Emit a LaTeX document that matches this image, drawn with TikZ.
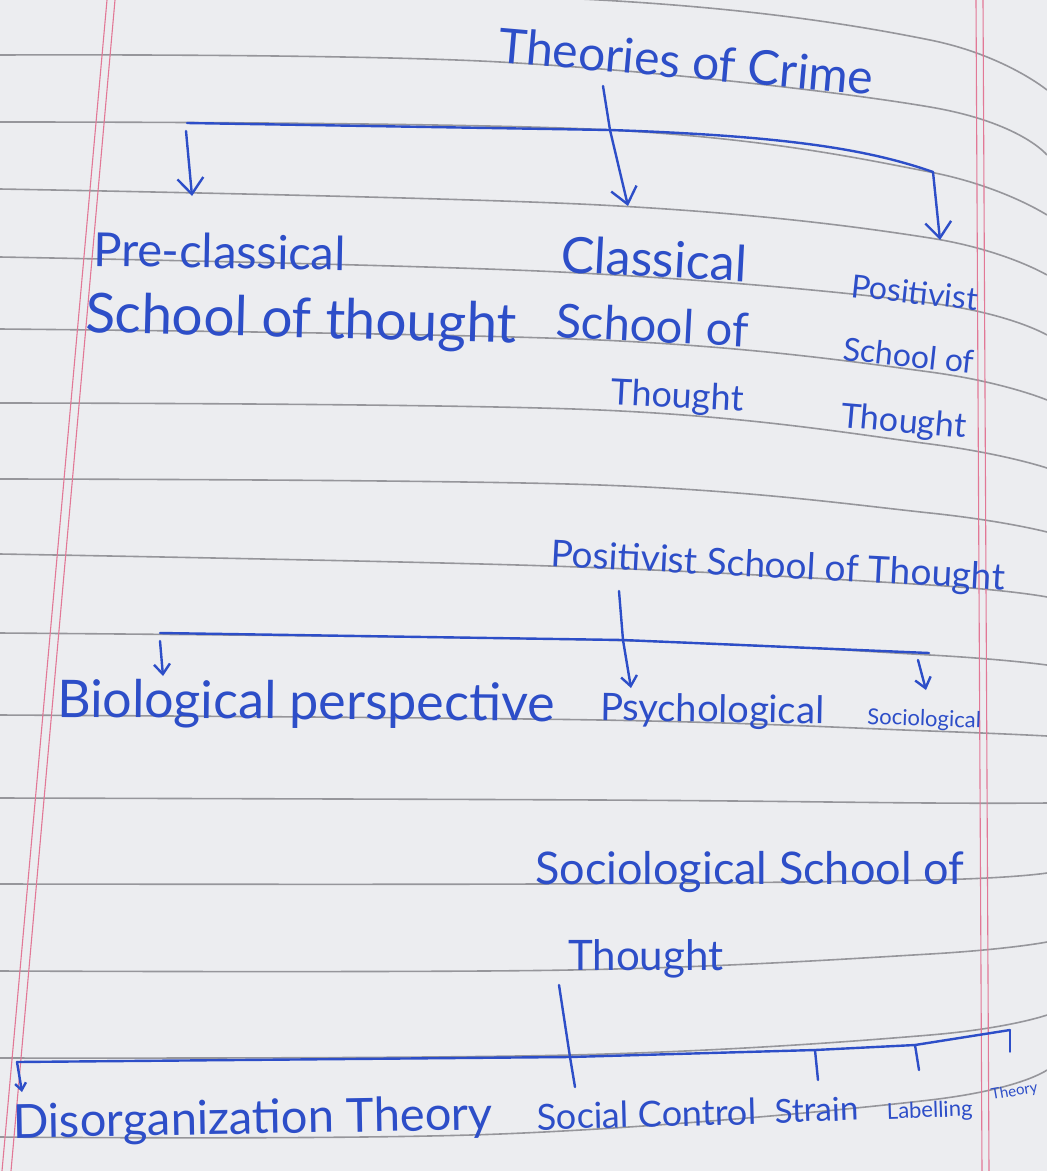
\documentclass[tikz,border=0pt]{standalone}
\usepackage{fontspec}
\setmainfont{Lato}
\usetikzlibrary{arrows.meta}
\definecolor{ink}{RGB}{45,78,200}
\definecolor{paper}{RGB}{236,237,240}
\definecolor{rulegray}{RGB}{150,150,155}
\definecolor{marginpink}{RGB}{226,120,150}
\newcommand\hsz[1]{\fontsize{#1}{#1}\selectfont}
\begin{document}
\begin{tikzpicture}[x=1pt,y=-1pt,
  hand/.style={text=ink, inner sep=0pt, anchor=base west},
  link/.style={draw=ink, line width=2.4pt, line cap=round, line join=round},
  arr/.style={link, -{Straight Barb[length=16pt,width=26pt]}},
  sarr/.style={link, -{Straight Barb[length=10pt,width=16pt]}},
  tarr/.style={link, -{Straight Barb[length=7pt,width=11pt]}},
  ruled/.style={draw=rulegray, line width=1.6pt},
  marg/.style={draw=marginpink, line width=1.1pt}]
\fill[paper] (0,0) rectangle (1047,1171);
\useasboundingbox (0,0) rectangle (1047,1171);
% ruled paper
\foreach \a/\b/\c/\d/\bx in {-12/0/40/90/600, 55/62/107/155/500, 122/130/172/215/610, 189/205/238/275/600, 257/272/303/335/560, 329/340/372/400/600, 403/410/444/468/600, 479/485/513/532/600, 554/566/585/597/550, 633/640/655/665/600, 715/720/731/736/600, 798/800/803/803/600, 884/884/880/873/535, 971/970/954/942/570, 1058/1055/1035/1015/570, 1137/1134/1100/1070/500}
  \draw[ruled] plot[smooth, tension=0.6] coordinates {(0,\a) (\bx,\b) (930,\c) (1047,\d)};
\draw[marg] (107,0) -- (2,1171);
\draw[marg] (115,0) -- (11,1171);
\draw[marg] (976,0) -- (982,1171);
\draw[marg] (983,0) -- (989,1171);

% texts
\node[hand, rotate=-5, font=\hsz{48}] (title) at (497,62) {Theories of Crime};
\node[hand, rotate=-1, font=\hsz{47}] (pre1) at (93,266) {Pre-classical};
\node[hand, rotate=-1.5, font=\hsz{55}] (pre2) at (85,332) {School of thought};
\node[hand, rotate=-3, font=\hsz{50}] (cla1) at (560,272) {Classical};
\node[hand, rotate=-3, font=\hsz{47}] (cla2) at (555,337) {School of};
\node[hand, rotate=-3, font=\hsz{36}] (cla3) at (610,404) {Thought};
\node[hand, rotate=-6, font=\hsz{32}] (pos1) at (850,297) {Positivist};
\node[hand, rotate=-6, font=\hsz{32}] (pos2) at (842,360) {School of};
\node[hand, rotate=-5, font=\hsz{34}] (pos3) at (840,427) {Thought};
\node[hand, rotate=-3, font=\hsz{37}] (posh) at (550,566) {Positivist School of Thought};
\node[hand, rotate=-0.5, font=\hsz{52}] (bio) at (57,717) {Biological perspective};
\node[hand, rotate=-1, font=\hsz{38}] (psy) at (600,720) {Psychological};
\node[hand, rotate=-2, font=\hsz{22}] (soc) at (867,724) {Sociological};
\node[hand, font=\hsz{45}] (sosh1) at (535,884) {Sociological School of};
\node[hand, font=\hsz{42}] (sosh2) at (568,970) {Thought};
\node[hand, rotate=1, font=\hsz{47}] (dis) at (13,1138) {Disorganization Theory};
\node[hand, rotate=1.5, font=\hsz{36}] (sc) at (537,1130) {Social Control};
\node[hand, rotate=2, font=\hsz{33}] (str) at (775,1123) {Strain};
\node[hand, rotate=2, font=\hsz{22}] (lab) at (887,1119) {Labelling};
\node[hand, rotate=10, font=\hsz{15}] (lt) at (992,1100) {Theory};

% tier 1
\coordinate (t1s) at (603,86);
\coordinate (j1) at (610,130);
\coordinate (l1) at (187,123);
\coordinate (r1) at (933,172);
\coordinate (a1s) at (186,131);
\coordinate (a1e) at (192,196);
\coordinate (a2e) at (628,206);
\coordinate (a3e) at (940,240);
\draw[link] (t1s) -- (j1);
\draw[link] (l1) -- (j1) .. controls (790,136) and (870,150) .. (r1);
\draw[arr] (a1s) -- (a1e);
\draw[arr] (j1) -- (a2e);
\draw[arr] (r1) -- (a3e);

% tier 2
\coordinate (t2s) at (619,591);
\coordinate (j2) at (623,640);
\coordinate (l2) at (160,633);
\coordinate (r2) at (929,653);
\coordinate (b1s) at (160,641);
\coordinate (b1e) at (163,676);
\coordinate (b2e) at (631,688);
\coordinate (b3s) at (918,660);
\coordinate (b3e) at (926,690);
\draw[link] (t2s) -- (j2);
\draw[link] (l2) -- (j2) -- (r2);
\draw[sarr] (b1s) -- (b1e);
\draw[sarr] (j2) -- (b2e);
\draw[sarr] (b3s) -- (b3e);

% tier 3
\coordinate (t3s) at (559,985);
\coordinate (j3) at (570,1057);
\coordinate (j3e) at (575,1087);
\coordinate (l3) at (17,1062);
\coordinate (k1) at (815,1050);
\coordinate (k2) at (915,1045);
\coordinate (r3) at (1010,1030);
\coordinate (k1e) at (818,1080);
\coordinate (k2e) at (919,1070);
\coordinate (r3e) at (1010,1052);
\coordinate (c1e) at (22,1092);
\draw[link] (t3s) -- (j3) -- (j3e);
\draw[link] (l3) -- (j3) -- (k1) -- (k2) -- (r3);
\draw[link] (k1) -- (k1e);
\draw[link] (k2) -- (k2e);
\draw[link, line width=1.4pt] (r3) -- (r3e);
\draw[tarr] (l3) -- (c1e);
\end{tikzpicture}
\end{document}
